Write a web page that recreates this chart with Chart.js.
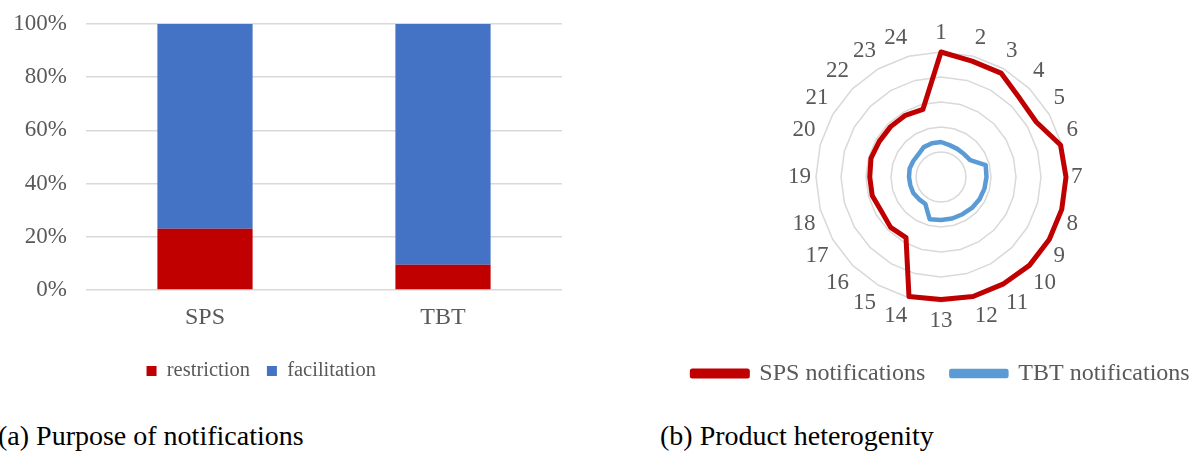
<!DOCTYPE html>
<html>
<head>
<meta charset="utf-8">
<script src="https://cdn.jsdelivr.net/npm/chart.js@4/dist/chart.umd.min.js"></script>
<style>
  html, body { margin: 0; padding: 0; background: #fff; overflow: hidden; }
  body { width: 1189px; height: 451px; position: relative; font-family: "Liberation Serif", "Times New Roman", serif; }
  .box { position: absolute; }
  .caption { position: absolute; font-size: 28px; line-height: 32px; color: #000; white-space: nowrap; }
</style>
</head>
<body>
<div class="box" style="left:0; top:0; width:600px; height:400px;"><canvas id="barChart"></canvas></div>
<div class="box" style="left:651px; top:0; width:580px; height:400px;"><canvas id="radarChart"></canvas></div>
<div class="caption" style="left:-2px; top:420px;">(a) Purpose of notifications</div>
<div class="caption" style="left:660px; top:420px;">(b) Product heterogenity</div>

<script>
// (a) purpose of notifications, share in %
const purposeCategories = ['SPS', 'TBT'];
const restrictionShare = [23, 9.5];
const facilitationShare = [77, 90.5];
const percentTicks = [0, 20, 40, 60, 80, 100];

// (b) product heterogeneity, 24 product groups
const productGroups = ['1', '2', '3', '4', '5', '6', '7', '8', '9', '10', '11', '12',
  '13', '14', '15', '16', '17', '18', '19', '20', '21', '22', '23', '24'];
const spsNotifications = [5.0, 4.8, 4.8, 4.45, 4.4, 4.95, 5.0, 5.0, 5.0, 5.0, 4.95, 4.95,
  4.9, 4.95, 2.8, 2.85, 2.75, 2.85, 2.85, 2.9, 2.85, 2.85, 2.85, 2.8];
const tbtNotifications = [1.4, 1.32, 1.3, 1.3, 1.35, 1.85, 1.82, 1.8, 1.78, 1.75, 1.72, 1.72,
  1.72, 1.75, 1.25, 1.25, 1.28, 1.27, 1.28, 1.3, 1.28, 1.28, 1.38, 1.4];

const serif = '"Liberation Serif", "Times New Roman", serif';
const grey = '#595959';
const gridGrey = '#d9d9d9';

Chart.defaults.animation = false;
Chart.defaults.font.family = serif;
Chart.defaults.color = grey;

new Chart(document.getElementById('barChart'), {
  type: 'bar',
  data: {
    labels: purposeCategories,
    datasets: [
      { label: 'restriction', data: restrictionShare, backgroundColor: '#C00000' },
      { label: 'facilitation', data: facilitationShare, backgroundColor: '#4472C4' }
    ]
  },
  options: {
    responsive: true,
    maintainAspectRatio: false,
    layout: { padding: { left: -39.5, right: 38, top: 24, bottom: 8.75 } },
    datasets: { bar: { barPercentage: 0.4, categoryPercentage: 1 } },
    scales: {
      x: {
        stacked: true,
        grid: { display: false },
        border: { display: false },
        ticks: { font: { size: 24 }, color: grey, padding: 5.5 },
        afterFit: (s) => { s.height = 53.75; }
      },
      y: {
        stacked: true,
        min: 0,
        max: 100,
        afterBuildTicks: (s) => { s.ticks = percentTicks.map(v => ({ value: v })); },
        // invisible tick marks keep the labels away from the plot area
        grid: { color: gridGrey, lineWidth: 1.5, drawTicks: true, tickLength: 11, tickColor: 'rgba(0,0,0,0)' },
        border: { display: false },
        ticks: { font: { size: 23 }, color: grey, padding: 8, callback: v => v + '%' },
        afterFit: (s) => { s.width = 125.5; }
      }
    },
    plugins: {
      legend: {
        position: 'bottom',
        labels: { boxWidth: 10, boxHeight: 10, padding: 17, font: { size: 20.5 }, color: grey }
      },
      tooltip: { enabled: false }
    }
  }
});

new Chart(document.getElementById('radarChart'), {
  type: 'radar',
  data: {
    labels: productGroups,
    datasets: [
      {
        label: 'SPS notifications',
        data: spsNotifications,
        borderColor: '#C00000',
        backgroundColor: '#C00000',
        borderWidth: 5
      },
      {
        label: 'TBT notifications',
        data: tbtNotifications,
        borderColor: '#5B9BD5',
        backgroundColor: '#5B9BD5',
        borderWidth: 4.5
      }
    ]
  },
  options: {
    responsive: true,
    maintainAspectRatio: false,
    layout: { padding: { left: 0, right: 0, top: 19.4, bottom: 4.4 } },
    elements: {
      line: { fill: false, tension: 0, borderJoinStyle: 'round' },
      point: { radius: 0, hoverRadius: 0 }
    },
    scales: {
      r: {
        min: 0,
        max: 5,
        ticks: { display: false, stepSize: 1 },
        angleLines: { display: false },
        grid: { color: gridGrey, lineWidth: 1.5 },
        pointLabels: { font: { size: 23 }, color: grey, padding: 5 }
      }
    },
    plugins: {
      legend: {
        position: 'bottom',
        labels: { boxWidth: 55, boxHeight: 5, padding: 26, font: { size: 24 }, color: grey }
      },
      tooltip: { enabled: false }
    }
  }
});
</script>
</body>
</html>
